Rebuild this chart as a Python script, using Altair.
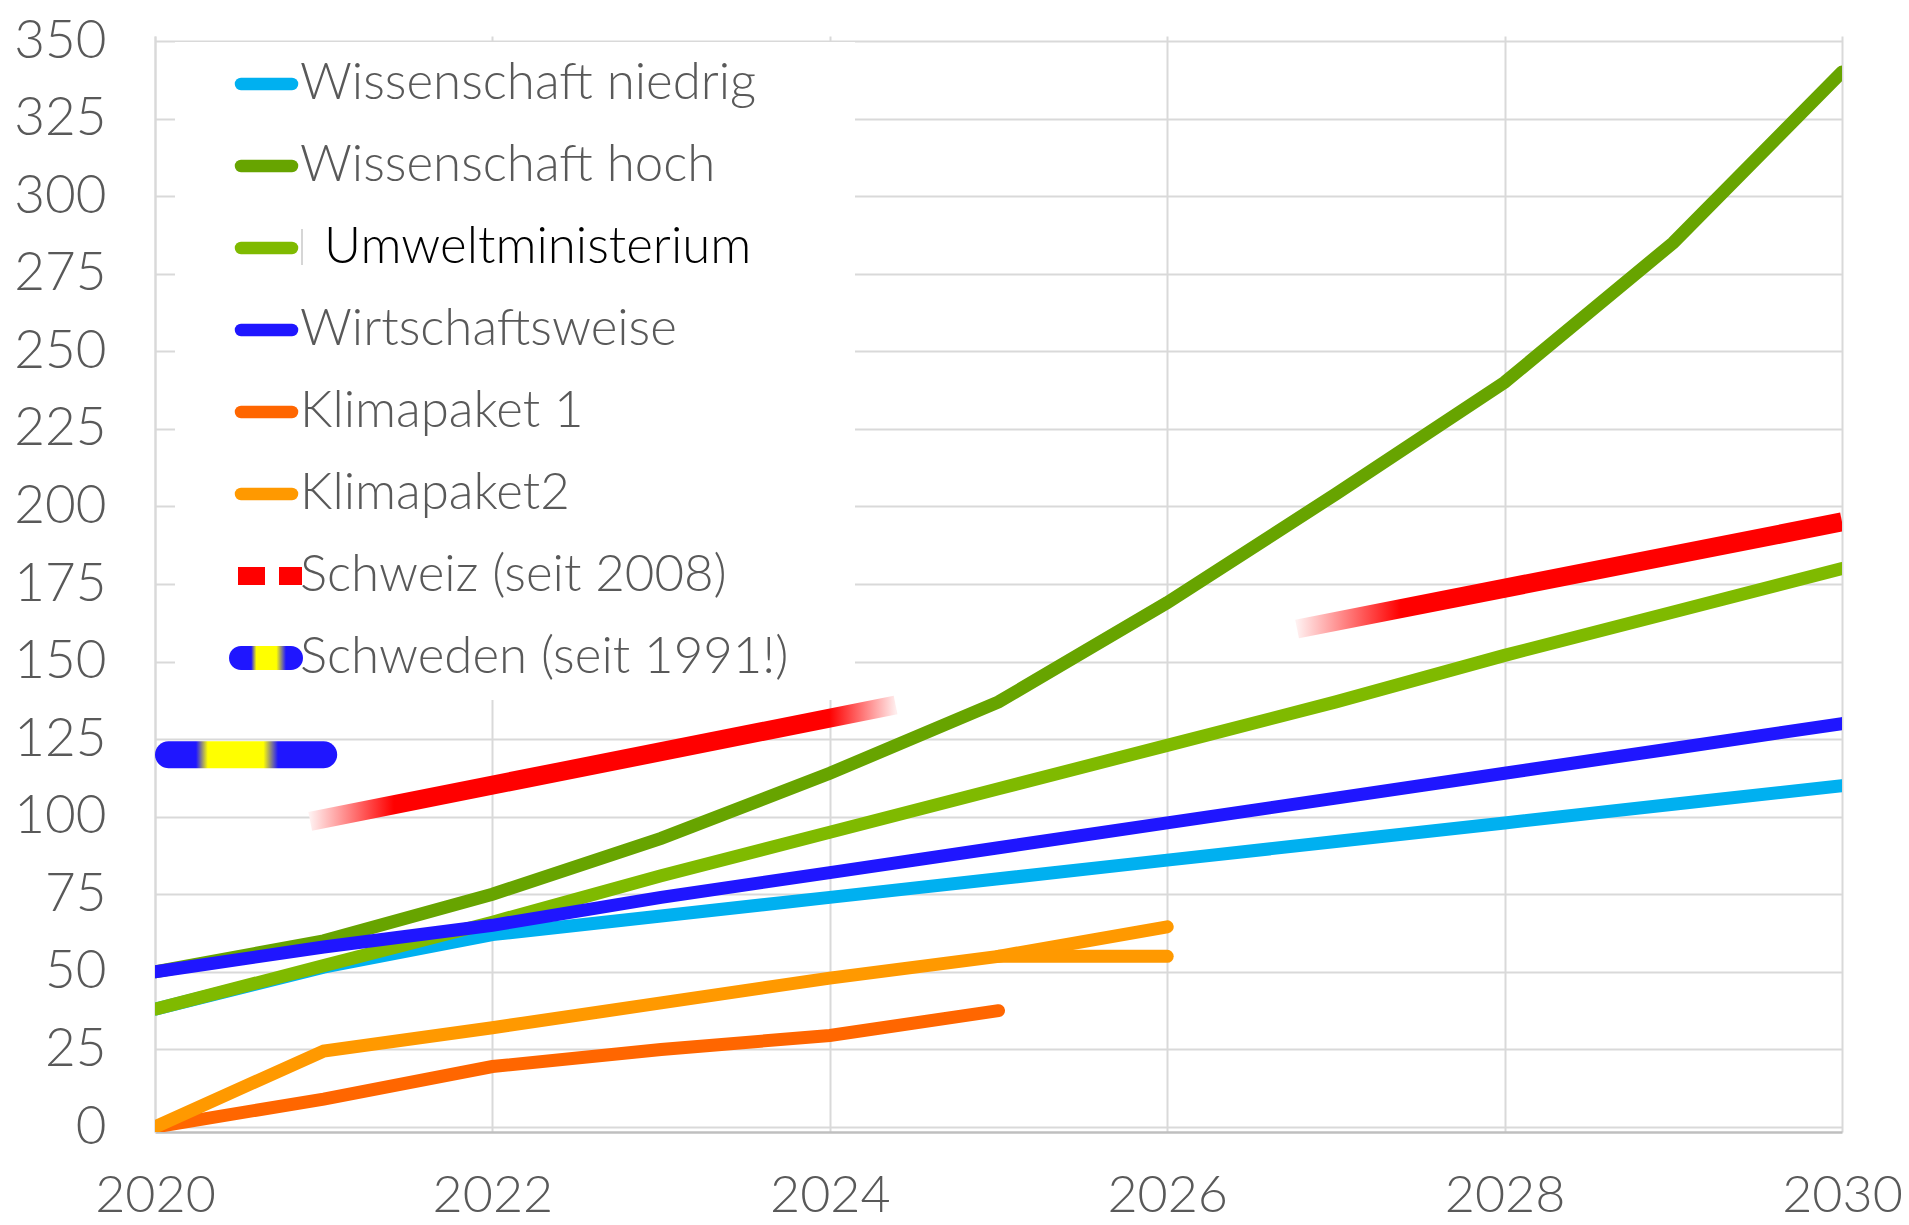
import altair as alt
import pandas as pd

# ---------------- data ----------------
YEARS = [2020, 2021, 2022, 2023, 2024, 2025, 2026, 2027, 2028, 2029, 2030]
W_NIEDRIG = [38, 51.5, 62, 68, 74, 80, 86, 92, 98, 104, 110]
W_HOCH = [50, 60, 75, 93, 114, 137, 169, 204, 240, 285, 340]
UMWELT = [38, 52, 66, 81, 95, 109, 123, 137, 152, 166, 180]
WIRTSCHAFT = [50, 58, 65, 74, 82, 90, 98, 106, 114, 122, 130]

K1_YEARS = [2020, 2021, 2022, 2023, 2024, 2025]
K1 = [0, 9, 19.5, 25, 29.5, 37.5]

K2_YEARS = [2020, 2021, 2022, 2023, 2024, 2025, 2026]
K2 = [0, 24.5, 32, 40, 48, 55, 64.5]
K2B_YEARS = [2025, 2026]
K2B = [55, 55]

CH_YEARS_A = [2020.92, 2024.39]
CH_A = [98.5, 136]
CH_YEARS_B = [2026.77, 2030]
CH_B = [160.5, 195]

SE_START = [2020]
SE_END = [2021.08]
SE_VALUE = [120]

SERIES = ["Wissenschaft niedrig", "Wissenschaft hoch", "Umweltministerium",
          "Wirtschaftsweise", "Klimapaket 1", "Klimapaket2",
          "Schweiz (seit 2008)", "Schweden (seit 1991!)"]
COLORS = ["#00B0F0", "#67A400", "#7FBA00", "#1F16FF", "#FF6600", "#FF9900",
          "#FF0000", "#1F16FF"]

X_TICKS = [2020, 2022, 2024, 2026, 2028, 2030]
Y_TICKS = [0, 25, 50, 75, 100, 125, 150, 175, 200, 225, 250, 275, 300, 325, 350]

# ---------------- tables ----------------
rows = []
def add(series, part, xs, ys):
    for x, y in zip(xs, ys):
        rows.append({"series": series, "part": part, "year": x, "value": y})

add(SERIES[0], "a", YEARS, W_NIEDRIG)
add(SERIES[1], "a", YEARS, W_HOCH)
add(SERIES[2], "a", YEARS, UMWELT)
add(SERIES[3], "a", YEARS, WIRTSCHAFT)
add(SERIES[4], "a", K1_YEARS, K1)
add(SERIES[5], "a", K2_YEARS, K2)
add(SERIES[5], "b", K2B_YEARS, K2B)
lines_df = pd.DataFrame(rows)

ch_a_df = pd.DataFrame({"year": CH_YEARS_A, "value": CH_A})
ch_b_df = pd.DataFrame({"year": CH_YEARS_B, "value": CH_B})
se_df = pd.DataFrame({"year": SE_START, "year_end": SE_END, "value": SE_VALUE})
leg_df = pd.DataFrame({"series": SERIES, "rank": list(range(len(SERIES)))})

# ---------------- scales / axes ----------------
FONT = "Lato"
x_scale = alt.Scale(domain=[2020, 2030], nice=False, zero=False)
y_scale = alt.Scale(domain=[0, 350], nice=False)
color_scale = alt.Scale(domain=SERIES, range=COLORS)

x_axis = alt.Axis(values=X_TICKS, format="d", title=None, labelFlush=False,
                  labelOverlap=False, labelFontSize=52, labelPadding=38,
                  ticks=False, tickSize=0, domainColor="#BFBFBF", domainWidth=2.5,
                  gridColor="#D9D9D9", gridWidth=2)
y_axis = alt.Axis(values=Y_TICKS, title=None, labelFontSize=53, labelPadding=49,
                  labelOverlap=False, ticks=False, tickSize=0,
                  domainColor="#D9D9D9", domainWidth=2,
                  gridColor="#D9D9D9", gridWidth=2)

X = alt.X("year:Q", scale=x_scale, axis=x_axis)
Y = alt.Y("value:Q", scale=y_scale, axis=y_axis)

main = alt.Chart(lines_df).mark_line(strokeWidth=13, strokeCap="round", clip=True).encode(
    x=X, y=Y,
    color=alt.Color("series:N", scale=color_scale, legend=None),
    detail="part:N",
)

def grad(stops):
    return alt.LinearGradient(gradient="linear", x1=0, x2=1, y1=0, y2=0,
                              stops=[alt.GradientStop(color=c, offset=o) for o, c in stops])

grad_ch_a = grad([(0, "#FFF0F0"), (0.143, "#FF0000"), (0.887, "#FF0000"), (1, "#FFEDED")])
grad_ch_b = grad([(0, "#FFF0F0"), (0.19, "#FF0000"), (1, "#FF0000")])
grad_se = grad([(0, "#1F16FF"), (0.225, "#1F16FF"), (0.29, "#FFFF00"),
                (0.595, "#FFFF00"), (0.675, "#1F16FF"), (1, "#1F16FF")])
grad_se_leg = grad([(0, "#1F16FF"), (0.30, "#1F16FF"), (0.37, "#FFFF00"),
                    (0.64, "#FFFF00"), (0.77, "#1F16FF"), (1, "#1F16FF")])

schweiz_a = alt.Chart(ch_a_df).mark_line(stroke=grad_ch_a, strokeWidth=19,
                                          strokeCap="butt", clip=True).encode(x=X, y=Y)
schweiz_b = alt.Chart(ch_b_df).mark_line(stroke=grad_ch_b, strokeWidth=19,
                                          strokeCap="butt", clip=True).encode(x=X, y=Y)

schweden = alt.Chart(se_df).mark_bar(orient="horizontal", size=27, cornerRadiusEnd=13.5,
                                     fill=grad_se, clip=True).encode(
    x=X, x2="year_end:Q", y=Y)

# ---------------- legend (inside the plot, white box) ----------------
box = alt.Chart(pd.DataFrame({"k": [0]})).mark_rect(color="white").encode(
    x=alt.value(20), x2=alt.value(700), y=alt.value(6), y2=alt.value(664))

leg = alt.Chart(leg_df).transform_calculate(py="48 + 82 * datum.rank")
PY = alt.Y("py:Q", scale=None, axis=None)

sym_lines = leg.transform_filter("datum.rank < 6").mark_rule(
    strokeWidth=12.5, strokeCap="round").encode(
    x=alt.value(86), x2=alt.value(137), y=PY,
    color=alt.Color("series:N", scale=color_scale, legend=None))

sym_ch = leg.transform_filter("datum.rank == 6").mark_rule(
    strokeWidth=18, strokeDash=[27, 14], color="#FF0000").encode(
    x=alt.value(83), x2=alt.value(147), y=PY)

sym_se = leg.transform_filter("datum.rank == 7").transform_calculate(
    py0="datum.py - 12", py1="datum.py + 12").mark_rect(
    cornerRadius=12, fill=grad_se_leg).encode(
    x=alt.value(74), x2=alt.value(148),
    y=alt.Y("py0:Q", scale=None, axis=None), y2="py1:Q")

# thin grey bar that sits before the "Umweltministerium" label in the original
sep = leg.transform_filter("datum.series == 'Umweltministerium'").transform_calculate(
    py0="datum.py - 19", py1="datum.py + 17").mark_rule(
    strokeWidth=1.5, color="#C8C8C8").encode(
    x=alt.value(147), y=alt.Y("py0:Q", scale=None, axis=None), y2="py1:Q")

labels = leg.transform_calculate(
    px="datum.series == 'Umweltministerium' ? 169 : 145").mark_text(
    align="left", baseline="middle", font=FONT, fontSize=51, fontWeight=300).encode(
    x=alt.X("px:Q", scale=None, axis=None), y=PY, text="series:N",
    color=alt.condition(alt.datum.series == "Umweltministerium",
                        alt.value("#000000"), alt.value("#595959")))

chart = alt.layer(main, schweiz_a, schweiz_b, schweden, box, sym_lines, sym_ch, sym_se,
                  sep, labels).properties(
    width=1687, height=1096,
    autosize=alt.AutoSizeParams(type="none"),
    padding={"left": 155, "top": 36, "right": 67, "bottom": 93},
    background="white",
).configure_view(stroke=None).configure_axis(
    labelFont=FONT, labelColor="#595959", labelFontWeight=300)

chart.save("out.html", embed_options={"renderer": "svg", "actions": False})
